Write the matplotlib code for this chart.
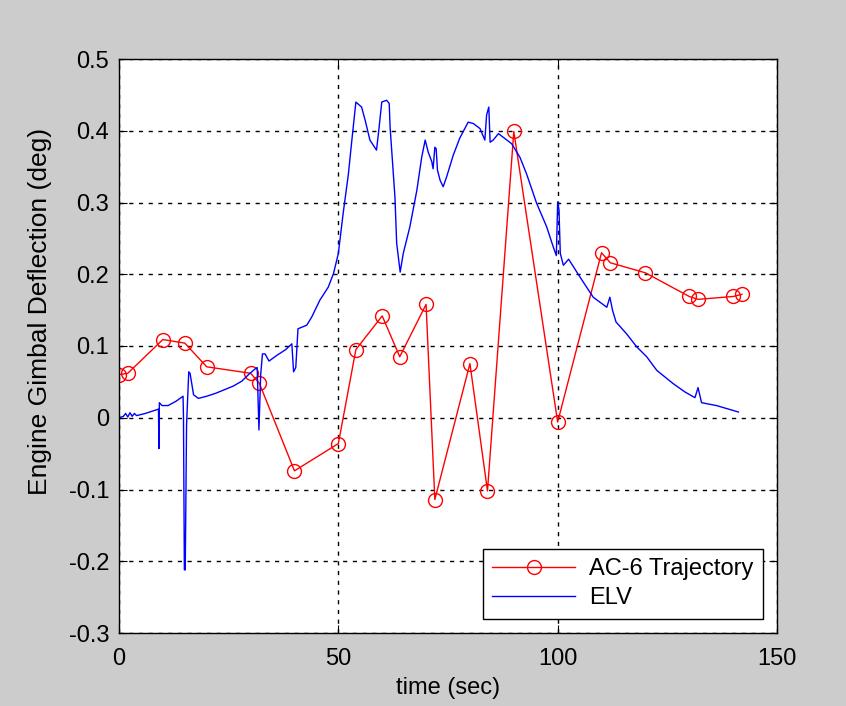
import matplotlib
matplotlib.use('Agg')
import matplotlib.pyplot as plt

plt.rcParams['font.family'] = ['Liberation Sans', 'DejaVu Sans']

# AC-6 trajectory samples
ac6_t = [0, 2, 10, 15, 20, 30, 32, 40, 50, 54, 60, 64, 70, 72, 80, 84, 90,
         100, 110, 112, 120, 130, 132, 140, 142]
ac6_v = [0.060, 0.062, 0.109, 0.104, 0.071, 0.062, 0.048, -0.074, -0.036,
         0.095, 0.142, 0.085, 0.158, -0.114, 0.0755, -0.102, 0.399,
         -0.006, 0.230, 0.216, 0.202, 0.169, 0.165, 0.169, 0.172]

# ELV trace
elv_t = [0, 1.0, 1.5, 2.0, 2.5, 3.0, 3.5, 4.0, 6.0, 8.0, 9.0, 9.1, 9.2, 9.8,
         11.2, 13.0, 14.6, 14.7, 14.9, 15.1, 15.4, 15.9, 16.2, 17.0, 18.1,
         20.0, 22.0, 24.0, 26.0, 28.0, 29.5, 31.0, 31.5, 31.9, 32.3, 32.7,
         33.3, 34.2, 36.0, 38.0, 39.4, 39.8, 40.3, 40.8, 42.8, 43.9, 45.8,
         47.7, 48.9, 50.0, 51.1, 52.3, 53.0, 54.0, 55.3, 56.1, 57.2, 58.7,
         59.3, 59.9, 61.0, 61.6, 61.8, 62.9, 63.3, 64.1, 64.8, 66.3, 67.9,
         69.0, 69.8, 70.5, 71.3, 71.6, 72.0, 72.3, 72.6, 73.2, 73.9, 74.7,
         76.2, 77.7, 79.6, 80.8, 82.3, 83.4, 83.8, 84.3, 84.6, 85.3, 86.5,
         88.0, 89.5, 91.4, 92.9, 95.2, 97.5, 99.0, 99.7, 100.0, 100.3, 100.6,
         101.3, 102.5, 105.1, 108.1, 111.2, 111.9, 112.5, 113.3, 115.7, 118.0,
         120.3, 122.6, 126.3, 129.0, 131.3, 132.0, 132.8, 136.2, 141.2]
elv_v = [0.000, 0.002, 0.006, 0.001, 0.007, 0.002, 0.006, 0.003, 0.006, 0.010,
         0.012, -0.043, 0.021, 0.017, 0.017, 0.023, 0.030, 0.000, -0.212,
         -0.212, -0.010, 0.064, 0.062, 0.032, 0.027, 0.030, 0.034, 0.039,
         0.044, 0.051, 0.060, 0.068, 0.070, -0.017, 0.060, 0.089, 0.089,
         0.079, 0.087, 0.095, 0.103, 0.064, 0.070, 0.124, 0.129, 0.140,
         0.164, 0.182, 0.201, 0.229, 0.285, 0.340, 0.382, 0.440, 0.433,
         0.415, 0.387, 0.373, 0.405, 0.440, 0.4425, 0.438, 0.405, 0.308,
         0.243, 0.203, 0.229, 0.266, 0.317, 0.363, 0.387, 0.370, 0.357,
         0.347, 0.377, 0.375, 0.345, 0.331, 0.322, 0.336, 0.366, 0.390,
         0.412, 0.410, 0.403, 0.387, 0.422, 0.433, 0.384, 0.387, 0.396,
         0.389, 0.382, 0.363, 0.340, 0.299, 0.266, 0.238, 0.226, 0.301,
         0.290, 0.229, 0.2125, 0.221, 0.196, 0.168, 0.154, 0.168, 0.150,
         0.1335, 0.117, 0.099, 0.085, 0.066, 0.0477, 0.036, 0.028, 0.042,
         0.021, 0.017, 0.008]

x_ticks = [0, 50, 100, 150]
y_ticks = [-0.3, -0.2, -0.1, 0, 0.1, 0.2, 0.3, 0.4, 0.5]
y_tick_labels = ['-0.3', '-0.2', '-0.1', '0', '0.1', '0.2', '0.3', '0.4', '0.5']

fig = plt.figure(figsize=(8.46, 7.06), dpi=100)
fig.patch.set_facecolor('#CCCCCC')
ax = fig.add_axes([119 / 846, 73 / 706, 658 / 846, 574 / 706])
ax.set_facecolor('white')

ax.plot(ac6_t, ac6_v, color='red', linewidth=1, marker='o', markersize=10,
        markerfacecolor='none', markeredgecolor='red', label='AC-6 Trajectory')
ax.plot(elv_t, elv_v, color='blue', linewidth=1, label='ELV')

ax.set_xlim(0, 150)
ax.set_ylim(-0.3, 0.5)
ax.set_xticks(x_ticks)
ax.set_yticks(y_ticks)
ax.set_yticklabels(y_tick_labels)

ax.grid(True, color='black', linestyle=(0, (3, 4)), linewidth=1)
ax.tick_params(direction='in', top=True, right=True, length=6, labelsize=17)
ax.tick_params(axis='x', pad=11)
ax.tick_params(axis='y', pad=7)
for s in ax.spines.values():
    s.set_color('black')
    s.set_linewidth(1)

ax.set_xlabel('time (sec)', fontsize=17, labelpad=5)
ax.set_ylabel('Engine Gimbal Deflection (deg)', fontsize=19)
ax.yaxis.set_label_coords(-0.102, 0.56)

leg = ax.legend(loc='lower right', fontsize=17, handlelength=3.5,
                fancybox=False, framealpha=1, edgecolor='black',
                borderaxespad=0.6, handletextpad=0.6, labelspacing=0.3,
                borderpad=0.4)
leg.get_frame().set_linewidth(1)

fig.savefig('out.png', dpi=100, facecolor=fig.get_facecolor())
